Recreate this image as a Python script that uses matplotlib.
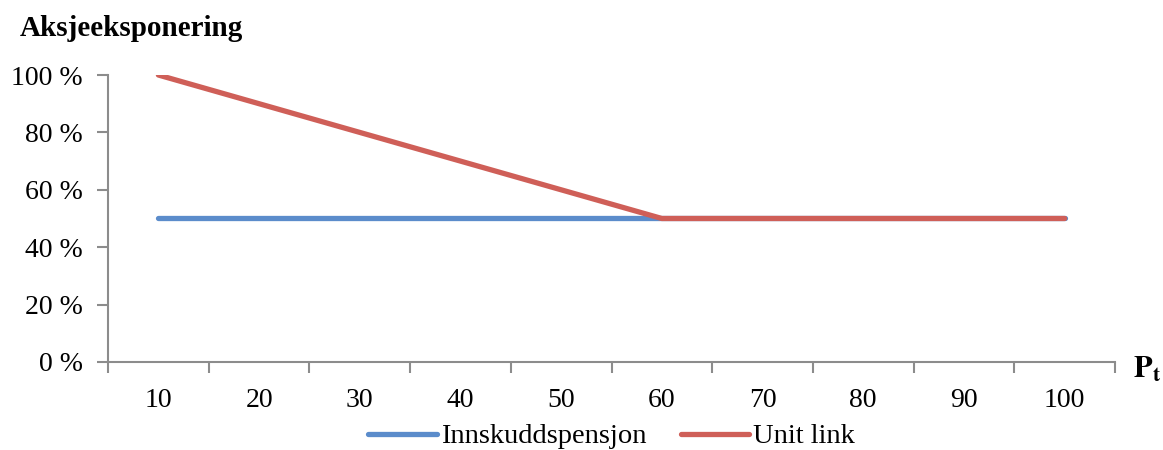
import matplotlib.pyplot as plt
import matplotlib.ticker as mticker

plt.rcParams['font.family'] = ['Liberation Serif', 'DejaVu Serif']
plt.rcParams['mathtext.fontset'] = 'stix'

p_t = [10, 20, 30, 40, 50, 60, 70, 80, 90, 100]
innskudd = [50, 50, 50, 50, 50, 50, 50, 50, 50, 50]   # % aksjer
unit_link = [100, 90, 80, 70, 60, 50, 50, 50, 50, 50]

blue = '#5B8CCB'
red = '#CF5F58'
axis_grey = '#8C8C8C'
fs = 20

fig = plt.figure(figsize=(11.63, 4.5), dpi=100)
ax = fig.add_axes([0.0929, 0.1956, 0.8658, 0.6377])

ax.plot(p_t, innskudd, color=blue, lw=3.8, solid_capstyle='round', label='Innskuddspensjon')
ax.plot(p_t, unit_link, color=red, lw=3.8, solid_capstyle='round', label='Unit link')

ax.set_xlim(5, 105)
ax.set_ylim(0, 100)
ax.set_yticks(range(0, 101, 20))
ax.yaxis.set_major_formatter(mticker.FuncFormatter(lambda v, _: '%d %%' % v))
# category axis: ticks between categories, labels centred on them
ax.set_xticks(range(5, 106, 10))
ax.set_xticklabels([])
ax.set_xticks(p_t, minor=True)
ax.set_xticklabels([str(v) for v in p_t], minor=True)
ax.tick_params(axis='x', which='minor', length=0, pad=19, labelsize=fs)
ax.tick_params(axis='x', which='major', length=8, width=1.5, color=axis_grey, direction='out')
ax.tick_params(axis='y', length=8, width=1.5, color=axis_grey, direction='out', pad=10, labelsize=fs)

for side in ('top', 'right'):
    ax.spines[side].set_visible(False)
for side in ('left', 'bottom'):
    ax.spines[side].set_color(axis_grey)
    ax.spines[side].set_linewidth(1.5)

fig.text(0.017, 0.937, 'Aksjeeksponering', fontsize=21, fontweight='bold', va='center')
fig.text(0.974, 0.178, r'$\mathbf{P_t}$', fontsize=22, va='center', ha='left')

fig.legend(loc='center', bbox_to_anchor=(0.526, 0.03), ncol=2, frameon=False,
           fontsize=20.5, handlelength=2.4, handletextpad=0.15, columnspacing=1.2,
           borderpad=0.1)

fig.savefig('out.png', dpi=100)
